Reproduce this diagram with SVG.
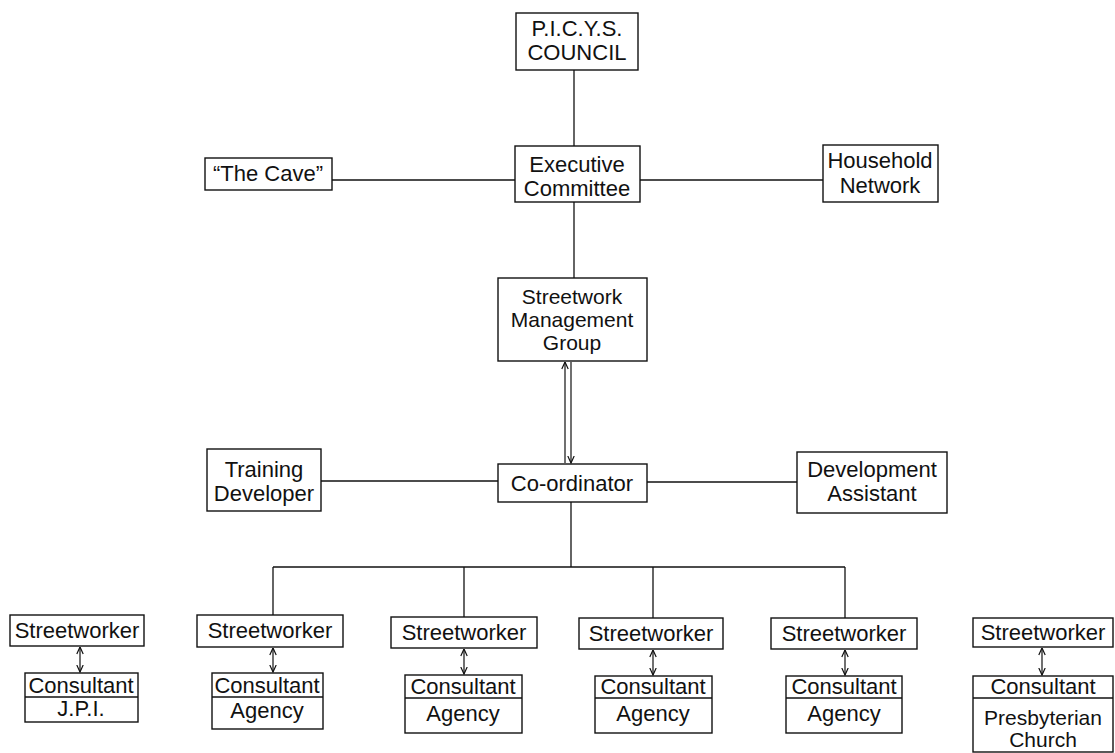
<svg xmlns="http://www.w3.org/2000/svg" width="1115" height="753" viewBox="0 0 1115 753">
  <style>
    .box { fill: #fff; stroke: #111; stroke-width: 1.4; }
    .div { stroke: #111; stroke-width: 1.3; }
    .lbl { font-family: "Liberation Sans", Arial, sans-serif; font-size: 22px; fill: #111; text-anchor: middle; }
    .tight { font-size: 21px; }
    .link { stroke: #111; stroke-width: 1.3; fill: none; }
    .dbl { stroke: #111; stroke-width: 1.2; fill: none; marker-start: url(#head); marker-end: url(#head); }
    .one { stroke: #111; stroke-width: 1.2; fill: none; marker-end: url(#head); }
  </style>
  <defs>
    <marker id="head" viewBox="0 0 8 8" refX="7.5" refY="4" markerWidth="8" markerHeight="8" markerUnits="userSpaceOnUse" orient="auto-start-reverse">
      <path d="M0.5,0.8 L7.5,4 L0.5,7.2" fill="none" stroke="#111" stroke-width="1.2"/>
    </marker>
  </defs>
  <rect width="1115" height="753" fill="#fff"/>

  <!-- connectors -->
  <g id="connectors">
    <line class="link" x1="574" y1="70" x2="574" y2="146"/>
    <line class="link" x1="332" y1="180" x2="515" y2="180"/>
    <line class="link" x1="640" y1="180" x2="823" y2="180"/>
    <line class="link" x1="574" y1="202" x2="574" y2="278"/>
    <line class="one" x1="565" y1="463" x2="565" y2="362"/>
    <line class="one" x1="571" y1="362" x2="571" y2="463"/>
    <line class="link" x1="321" y1="481" x2="498" y2="481"/>
    <line class="link" x1="647" y1="482" x2="797" y2="482"/>
    <line class="link" x1="571" y1="502" x2="571" y2="567"/>
    <line class="link" x1="273" y1="567" x2="845" y2="567"/>
    <line class="link" x1="273" y1="567" x2="273" y2="615"/>
    <line class="link" x1="464" y1="567" x2="464" y2="617"/>
    <line class="link" x1="653" y1="567" x2="653" y2="618"/>
    <line class="link" x1="845" y1="567" x2="845" y2="618"/>
    <line class="dbl" x1="80" y1="647" x2="80" y2="672"/>
    <line class="dbl" x1="273" y1="648" x2="273" y2="672"/>
    <line class="dbl" x1="464" y1="649" x2="464" y2="674"/>
    <line class="dbl" x1="653" y1="650" x2="653" y2="675"/>
    <line class="dbl" x1="845" y1="650" x2="845" y2="675"/>
    <line class="dbl" x1="1042" y1="648" x2="1042" y2="675"/>
  </g>

  <g id="council">
    <rect class="box" x="516" y="13" width="122" height="57"/>
    <text class="lbl" x="577" y="36">P.I.C.Y.S.</text>
    <text class="lbl" x="577" y="60">COUNCIL</text>
  </g>
  <g id="executive">
    <rect class="box" x="515" y="146" width="125" height="56"/>
    <text class="lbl" x="577" y="172">Executive</text>
    <text class="lbl" x="577" y="196">Committee</text>
  </g>
  <g id="cave">
    <rect class="box" x="205" y="158" width="127" height="32"/>
    <text class="lbl" x="268" y="181">“The Cave”</text>
  </g>
  <g id="household">
    <rect class="box" x="823" y="145" width="115" height="57"/>
    <text class="lbl" x="880" y="168">Household</text>
    <text class="lbl" x="880" y="193">Network</text>
  </g>
  <g id="management">
    <rect class="box" x="498" y="278" width="149" height="83"/>
    <text class="lbl tight" x="572" y="304">Streetwork</text>
    <text class="lbl tight" x="572" y="327">Management</text>
    <text class="lbl tight" x="572" y="350">Group</text>
  </g>
  <g id="coordinator">
    <rect class="box" x="498" y="464" width="149" height="38"/>
    <text class="lbl" x="572" y="491">Co-ordinator</text>
  </g>
  <g id="training">
    <rect class="box" x="207" y="449" width="114" height="62"/>
    <text class="lbl" x="264" y="477">Training</text>
    <text class="lbl" x="264" y="501">Developer</text>
  </g>
  <g id="assistant">
    <rect class="box" x="797" y="452" width="150" height="61"/>
    <text class="lbl" x="872" y="477">Development</text>
    <text class="lbl" x="872" y="501">Assistant</text>
  </g>

  <!-- streetworkers -->
  <g id="sw1">
    <rect class="box" x="10" y="615" width="134" height="31"/>
    <text class="lbl" x="77" y="638">Streetworker</text>
  </g>
  <g id="sw2">
    <rect class="box" x="197" y="615" width="146" height="32"/>
    <text class="lbl" x="270" y="638">Streetworker</text>
  </g>
  <g id="sw3">
    <rect class="box" x="391" y="617" width="146" height="31"/>
    <text class="lbl" x="464" y="640">Streetworker</text>
  </g>
  <g id="sw4">
    <rect class="box" x="579" y="618" width="144" height="31"/>
    <text class="lbl" x="651" y="641">Streetworker</text>
  </g>
  <g id="sw5">
    <rect class="box" x="771" y="618" width="146" height="31"/>
    <text class="lbl" x="844" y="641">Streetworker</text>
  </g>
  <g id="sw6">
    <rect class="box" x="973" y="618" width="140" height="29"/>
    <text class="lbl" x="1043" y="640">Streetworker</text>
  </g>

  <!-- consultants -->
  <g id="con1">
    <rect class="box" x="25" y="673" width="113" height="49"/>
    <line class="div" x1="25" y1="697" x2="138" y2="697"/>
    <text class="lbl" x="81" y="693">Consultant</text>
    <text class="lbl" x="81" y="716">J.P.I.</text>
  </g>
  <g id="con2">
    <rect class="box" x="212" y="673" width="111" height="56"/>
    <line class="div" x1="212" y1="697" x2="323" y2="697"/>
    <text class="lbl" x="267" y="693">Consultant</text>
    <text class="lbl" x="267" y="718">Agency</text>
  </g>
  <g id="con3">
    <rect class="box" x="405" y="675" width="117" height="58"/>
    <line class="div" x1="405" y1="698" x2="522" y2="698"/>
    <text class="lbl" x="463" y="694">Consultant</text>
    <text class="lbl" x="463" y="721">Agency</text>
  </g>
  <g id="con4">
    <rect class="box" x="595" y="676" width="117" height="57"/>
    <line class="div" x1="595" y1="698" x2="712" y2="698"/>
    <text class="lbl" x="653" y="694">Consultant</text>
    <text class="lbl" x="653" y="721">Agency</text>
  </g>
  <g id="con5">
    <rect class="box" x="786" y="676" width="116" height="57"/>
    <line class="div" x1="786" y1="698" x2="902" y2="698"/>
    <text class="lbl" x="844" y="694">Consultant</text>
    <text class="lbl" x="844" y="721">Agency</text>
  </g>
  <g id="con6">
    <rect class="box" x="973" y="676" width="140" height="76"/>
    <line class="div" x1="973" y1="698" x2="1113" y2="698"/>
    <text class="lbl" x="1043" y="694">Consultant</text>
    <text class="lbl tight" x="1043" y="725">Presbyterian</text>
    <text class="lbl tight" x="1043" y="747">Church</text>
  </g>
</svg>
